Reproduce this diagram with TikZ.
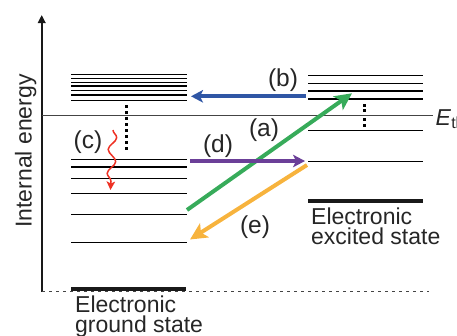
\documentclass[tikz,border=0pt]{standalone}
\usepackage{fontspec}
\setmainfont{Liberation Sans}
\usetikzlibrary{arrows.meta,decorations.pathmorphing}
\definecolor{cblue}{HTML}{2F56A5}
\definecolor{cgreen}{HTML}{37AB5A}
\definecolor{cpurple}{HTML}{6B3F98}
\definecolor{corange}{HTML}{F7B33D}
\definecolor{cred}{HTML}{EE3124}
\definecolor{cgray}{HTML}{444444}
\tikzset{
  level/.style={line width=1.3pt, black},
  thicklevel/.style={line width=3.7pt, black!90},
  trans/.style={line width=4pt},
  smallhead/.style={-{Stealth[length=12pt,width=12.5pt,inset=3pt]}},
  bighead/.style={-{Stealth[length=17pt,width=16.5pt,inset=4pt]}},
  lbl/.style={font=\fontsize{24.5}{24}\selectfont, inner sep=0pt, text=black!85},
  statetxt/.style={font=\fontsize{23}{20}\selectfont, inner sep=0pt, align=left, anchor=north west, text=black!85},
  vdot/.style={rectangle, fill=black, inner sep=0pt, minimum size=3pt},
}
\begin{document}
\begin{tikzpicture}[x=1pt,y=-1pt]
\useasboundingbox (0,0) rectangle (457,335);
% axis
\coordinate (axb) at (41.7,292);
\coordinate (axt) at (41.7,15);
\draw[line width=2.3pt, black!90, -{Triangle[length=8pt,width=7.5pt]}] (axb) -- (axt);
\node[rotate=90, anchor=base, font=\fontsize{23}{23}\selectfont, inner sep=0pt, text=black!85] (ylab) at (31.5,151) {Internal energy};
% threshold line
\coordinate (thl) at (42,115.7);
\coordinate (thr) at (433,115.7);
\draw[line width=1pt, cgray] (thl) -- (thr);
\node[anchor=base west, inner sep=0pt, font=\fontsize{23}{23}\selectfont, text=black!85] (eth) at (435.5,125) {\textit{E}\textsubscript{th}};
% dashed baseline
\coordinate (dl) at (42,291);
\coordinate (dr) at (429,291);
\draw[line width=1pt, cgray, dash pattern=on 3pt off 4pt] (dl) -- (dr);
% left levels
\foreach \y in {74.7,78.3,82.3,86,90.3,95,100.3,159.5,167,178.5,193.5,214.5,242.5}
  \draw[level] (71,\y) -- (187,\y);
% right levels
\foreach \y in {75.3,83.3,91,99,130.7,161.5}
  \draw[level] (308,\y) -- (423,\y);
% thick state lines
\coordinate (gsl) at (71,288.8);
\coordinate (gsr) at (186,288.8);
\draw[thicklevel] (gsl) -- (gsr);
\coordinate (esl) at (308,200.7);
\coordinate (esr) at (423,200.7);
\draw[thicklevel] (esl) -- (esr);
% dots
\foreach \i in {0,...,7}
  \node[vdot] (ld\i) at (126.7,106.7+5.95*\i) {};
\foreach \y [count=\i] in {105,110.7,119.3,125}
  \node[vdot] (rd\i) at (364,\y) {};
% state labels
\node[statetxt] (gst) at (75,296) {Electronic\\ground state};
\node[statetxt] (est) at (311,208) {Electronic\\excited state};
% transitions
\coordinate (bs) at (306,96.3);
\coordinate (be) at (191,96.3);
\draw[trans, cblue, smallhead] (bs) -- (be);
\coordinate (gs) at (187,210);
\coordinate (ge) at (352,93.3);
\draw[trans, cgreen, bighead] (gs) -- (ge);
\coordinate (ps) at (190,161);
\coordinate (pe) at (305,161);
\draw[trans, cpurple, smallhead] (ps) -- (pe);
\coordinate (os) at (307,165);
\coordinate (oe) at (190,239.5);
\draw[trans, corange, bighead] (os) -- (oe);
\coordinate (cs) at (113,130);
\coordinate (ce) at (110.5,190);
\draw[line width=1.5pt, cred, decorate, decoration={snake, amplitude=4pt, segment length=24pt, post length=8pt}, -{Stealth[length=8.5pt,width=8.5pt,inset=2pt]}] (cs) -- (ce);
% letter labels
\node[lbl] (la) at (264,130) {(a)};
\node[lbl] (lb) at (283,80) {(b)};
\node[lbl] (lc) at (88,142) {(c)};
\node[lbl] (ld) at (218,146.5) {(d)};
\node[lbl] (le) at (255,226.7) {(e)};
\end{tikzpicture}
\end{document}
